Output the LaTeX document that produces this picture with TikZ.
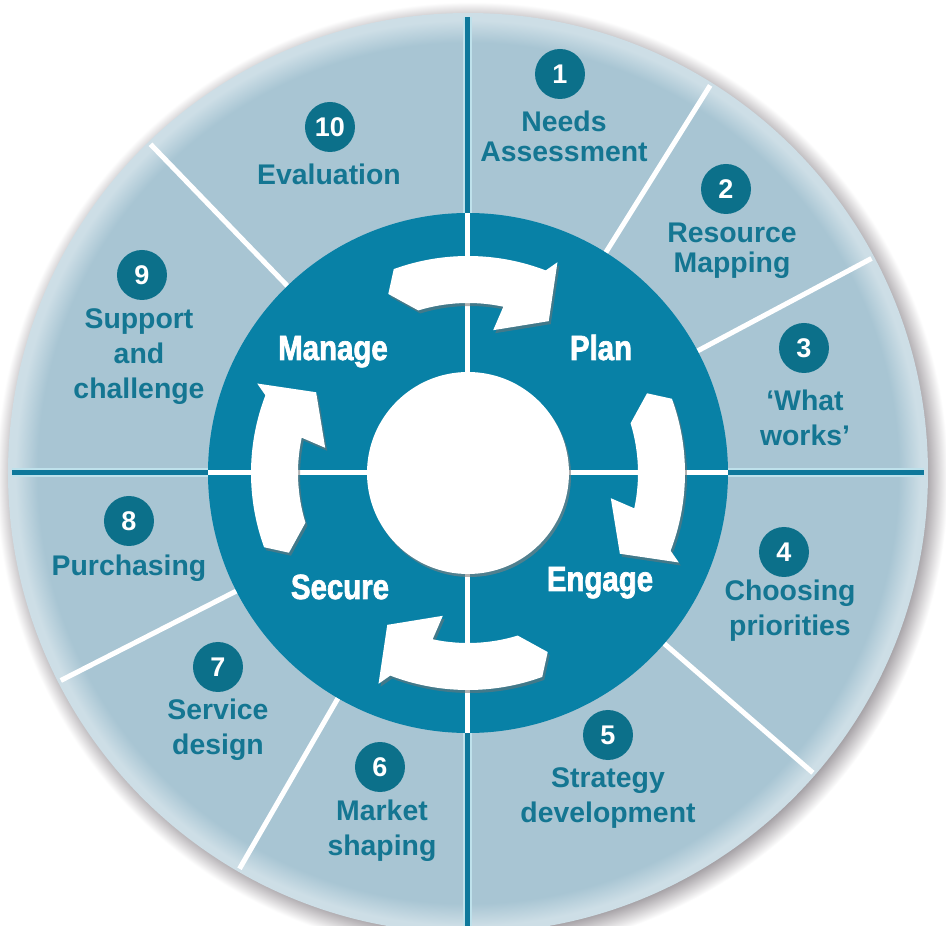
\documentclass[tikz,border=0pt]{standalone}
\usepackage{fontspec}
\setmainfont{Liberation Sans}
\newfontfamily\ringfont[FakeStretch=0.84,FakeBold=2]{Liberation Sans}
\usepackage{tikz}

\definecolor{segfill}{RGB}{168,197,211}
\definecolor{rimlight}{RGB}{205,222,230}
\definecolor{shadowgray}{RGB}{150,145,150}
\definecolor{ringblue}{RGB}{8,129,166}
\definecolor{dotteal}{RGB}{12,112,138}
\definecolor{labelteal}{RGB}{20,118,146}
\definecolor{linedark}{RGB}{14,120,155}
\definecolor{linelight}{RGB}{190,225,235}

\pgfdeclareradialshading{rimshade}{\pgfpointorigin}{color(0bp)=(segfill); color(23.4bp)=(segfill); color(24.6bp)=(rimlight); color(25bp)=(rimlight); color(50bp)=(rimlight)}
\pgfdeclareradialshading{discshadow}{\pgfpointorigin}{color(0bp)=(shadowgray); color(23.6bp)=(shadowgray); color(25bp)=(white); color(50bp)=(white)}

\tikzset{numdot/.style={circle, fill=dotteal, text=white, minimum size=50, inner sep=0pt,
  font=\fontsize{27}{27}\selectfont\bfseries},
stagelabel/.style={text=labelteal, align=center, font=\fontsize{28.4}{35}\selectfont\bfseries},
%first two labels sit closer together
tightlabel/.style={stagelabel, font=\fontsize{28.4}{30}\selectfont\bfseries},
phase/.style={text=white, anchor=base, font=\ringfont\fontsize{35}{35}\selectfont\bfseries},
arrowshadow/.style={fill=black!55, opacity=0.55},
bentarrow/.style={insert path={(\t:217) arc[start angle=\t, end angle=\t-41, radius=217]
  -- (\t-43:229) -- (\t-48:172) -- (\t-30:145) -- (\t-32:170)
  arc[start angle=\t-32, end angle=\t-3, radius=170] -- (\t+4:196) -- cycle}}}

\begin{document}
\begin{tikzpicture}[x=1pt,y=1pt]
\useasboundingbox (-468,-453) rectangle (478,473);
\fill[white] (-468,-453) rectangle (478,473);

% outer disc
\shade[shading=discshadow] (4,-5) circle (476);
\shade[shading=rimshade] (0,0) circle (460);

% dividers
\foreach \a in {28,58,134,207,240,319}
  \draw[white, line width=5] (\a:258) -- (\a:457);
\foreach \a in {0,90,180,270} {
  \draw[linelight, line width=9] (\a:258) -- (\a:456);
  \draw[linedark, line width=5] (\a:258) -- (\a:456);
}

% inner ring
\fill[ringblue] (0,0) circle (260);
\foreach \a in {0,90,180,270}
  \draw[white, line width=5] (\a:100) -- (\a:260);

% cycle arrows
\foreach \t in {110,20,-70,-160} {
  \fill[arrowshadow, shift={(2,-3)}, bentarrow];
  \fill[white, bentarrow];
}

% centre
\fill[black!50, opacity=0.6] (2,-3) circle (101);
\fill[white] (0,0) circle (101);

\node[phase] (manage) at (-135,113) {Manage};
\node[phase] (plan) at (133,113) {Plan};
\node[phase] (engage) at (132,-118) {Engage};
\node[phase] (secure) at (-128,-126) {Secure};

%stages
\node[numdot] (n1) at (92,399) {1};
\node[tightlabel] (l1) at (96,337) {Needs\\Assessment};
\node[numdot] (n2) at (258,284) {2};
\node[tightlabel] (l2) at (264,222) {Resource\\Mapping};
\node[numdot] (n3) at (336,125) {3};
\node[stagelabel] (l3) at (337,55) {‘What\\works’};
\node[numdot] (n4) at (316,-79) {4};
\node[stagelabel] (l4) at (322,-138) {Choosing\\priorities};
\node[numdot] (n5) at (140,-262) {5};
\node[stagelabel] (l5) at (140,-325) {Strategy\\development};
\node[numdot] (n6) at (-88,-294) {6};
\node[stagelabel] (l6) at (-86,-358) {Market\\shaping};
\node[numdot] (n7) at (-250,-194) {7};
\node[stagelabel] (l7) at (-250,-257) {Service\\design};
\node[numdot] (n8) at (-339,-48) {8};
\node[stagelabel] (l8) at (-339,-95) {Purchasing};
\node[numdot] (n9) at (-326,198) {9};
\node[stagelabel] (l9) at (-329,116) {Support\\and\\challenge};
\node[numdot] (n10) at (-138,346) {10};
\node[stagelabel] (l10) at (-139,299) {Evaluation};

\end{tikzpicture}
\end{document}
